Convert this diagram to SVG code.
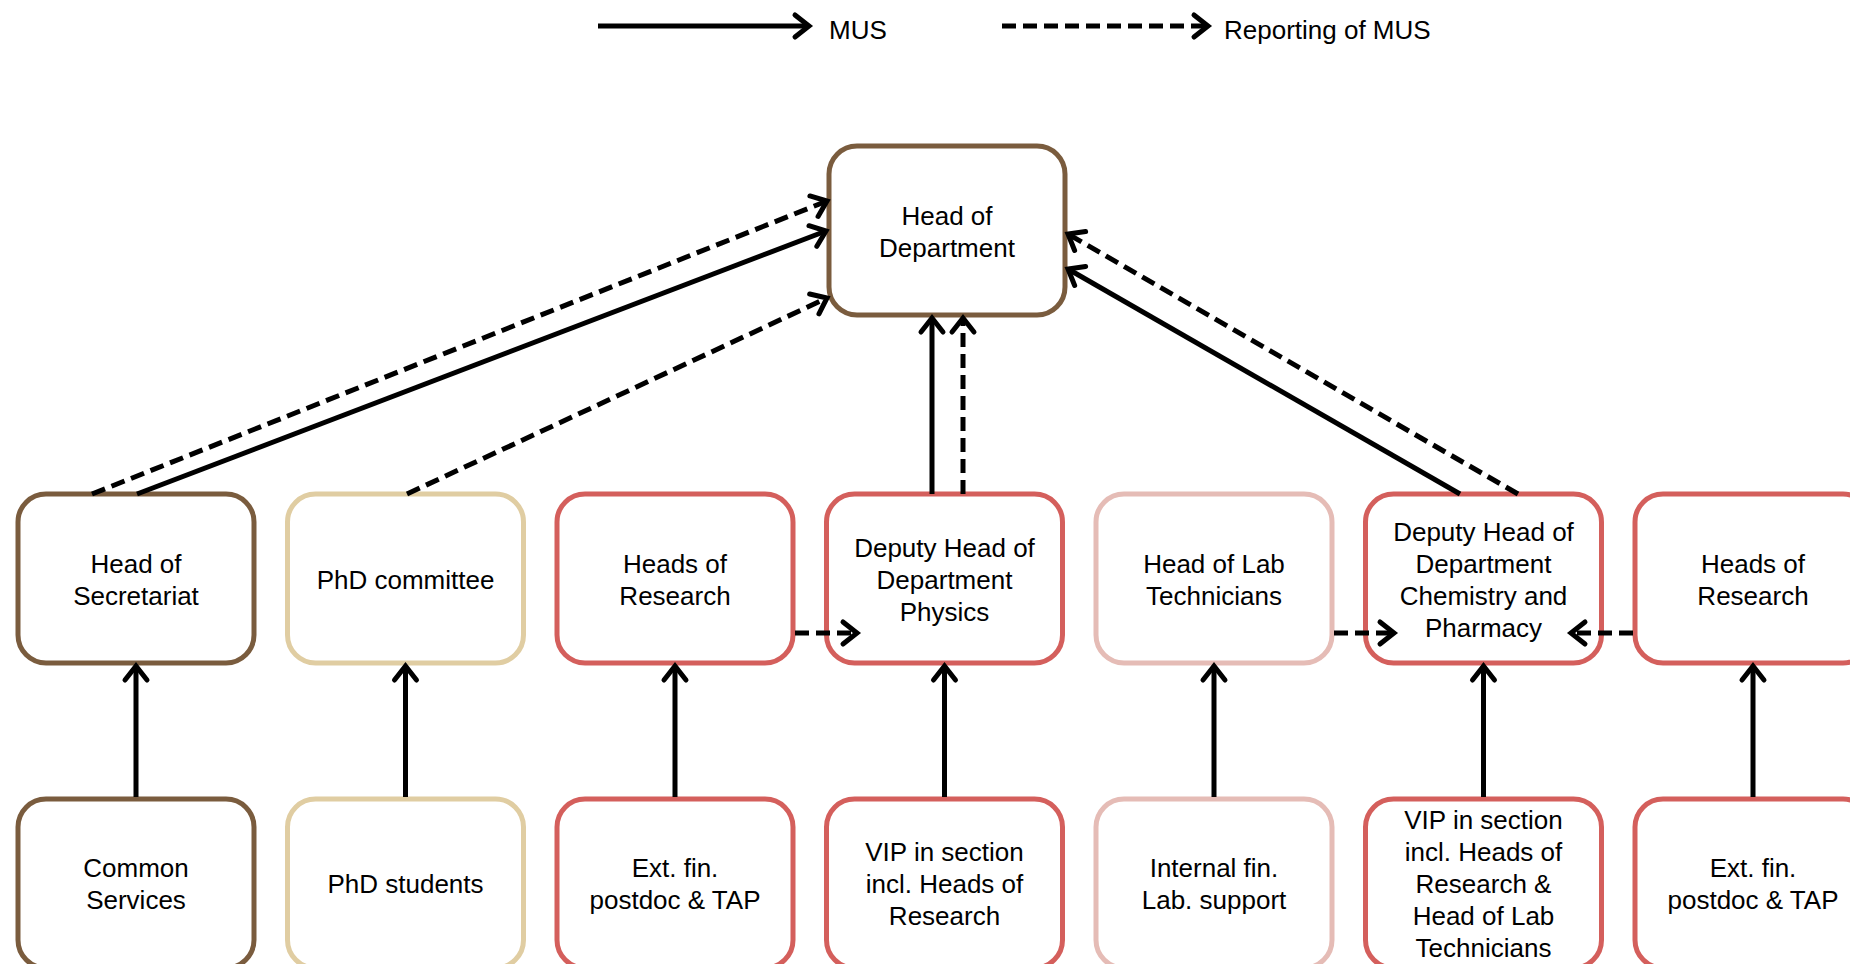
<svg xmlns="http://www.w3.org/2000/svg" width="1850" height="964" viewBox="0 0 1850 964">
<defs>
<style>
.box{fill:#fff;stroke-width:5}
.brown{stroke:#7a5c3e}
.tan{stroke:#e0cda2}
.red{stroke:#d45f5c}
.pink{stroke:#e5bcb6}
.t{font-family:"Liberation Sans",Arial,sans-serif;font-size:26px;fill:#000;text-anchor:middle;dominant-baseline:central}
.lt{font-family:"Liberation Sans",Arial,sans-serif;font-size:26px;fill:#000}
.c{fill:none;stroke:#000;stroke-width:5;marker-end:url(#ah)}
.d{stroke-dasharray:14 7}
</style>
<marker id="ah" viewBox="-16 -14 20 28" refX="0" refY="0" markerWidth="20" markerHeight="28" markerUnits="userSpaceOnUse" orient="auto" overflow="visible">
<path d="M-14,-11 L0,0 L-14,11" fill="none" stroke="#000" stroke-width="5" stroke-linecap="round" stroke-linejoin="miter"/>
</marker>
</defs>
<rect width="1850" height="964" fill="#fff"/>

<g id="legend">
<path class="c" d="M598,26 L809,26"/>
<text class="lt" x="829" y="39">MUS</text>
<path class="c d" d="M1002,26 L1208,26"/>
<text class="lt" x="1224" y="39">Reporting of MUS</text>
</g>

<g id="head-of-department">
<rect class="box brown" x="829" y="146" width="236" height="169" rx="28"/>
<text class="t" x="947" y="216">Head of</text>
<text class="t" x="947" y="248">Department</text>
</g>

<g id="head-of-secretariat">
<rect class="box brown" x="18" y="494" width="236" height="169" rx="28"/>
<text class="t" x="136" y="564">Head of</text>
<text class="t" x="136" y="596">Secretariat</text>
</g>
<g id="phd-committee">
<rect class="box tan" x="287.5" y="494" width="236" height="169" rx="28"/>
<text class="t" x="405.5" y="580">PhD committee</text>
</g>
<g id="heads-of-research-1">
<rect class="box red" x="557" y="494" width="236" height="169" rx="28"/>
<text class="t" x="675" y="564">Heads of</text>
<text class="t" x="675" y="596">Research</text>
</g>
<g id="deputy-physics">
<rect class="box red" x="826.5" y="494" width="236" height="169" rx="28"/>
<text class="t" x="944.5" y="548">Deputy Head of</text>
<text class="t" x="944.5" y="580">Department</text>
<text class="t" x="944.5" y="612">Physics</text>
</g>
<g id="head-of-lab-technicians">
<rect class="box pink" x="1096" y="494" width="236" height="169" rx="28"/>
<text class="t" x="1214" y="564">Head of Lab</text>
<text class="t" x="1214" y="596">Technicians</text>
</g>
<g id="deputy-chemistry">
<rect class="box red" x="1365.5" y="494" width="236" height="169" rx="28"/>
<text class="t" x="1483.5" y="532">Deputy Head of</text>
<text class="t" x="1483.5" y="564">Department</text>
<text class="t" x="1483.5" y="596">Chemistry and</text>
<text class="t" x="1483.5" y="628">Pharmacy</text>
</g>
<g id="heads-of-research-2">
<rect class="box red" x="1635" y="494" width="236" height="169" rx="28"/>
<text class="t" x="1753" y="564">Heads of</text>
<text class="t" x="1753" y="596">Research</text>
</g>

<g id="common-services">
<rect class="box brown" x="18" y="799" width="236" height="169" rx="28"/>
<text class="t" x="136" y="868">Common</text>
<text class="t" x="136" y="900">Services</text>
</g>
<g id="phd-students">
<rect class="box tan" x="287.5" y="799" width="236" height="169" rx="28"/>
<text class="t" x="405.5" y="884">PhD students</text>
</g>
<g id="ext-fin-1">
<rect class="box red" x="557" y="799" width="236" height="169" rx="28"/>
<text class="t" x="675" y="868">Ext. fin.</text>
<text class="t" x="675" y="900">postdoc &amp; TAP</text>
</g>
<g id="vip-physics">
<rect class="box red" x="826.5" y="799" width="236" height="169" rx="28"/>
<text class="t" x="944.5" y="852">VIP in section</text>
<text class="t" x="944.5" y="884">incl. Heads of</text>
<text class="t" x="944.5" y="916">Research</text>
</g>
<g id="internal-fin">
<rect class="box pink" x="1096" y="799" width="236" height="169" rx="28"/>
<text class="t" x="1214" y="868">Internal fin.</text>
<text class="t" x="1214" y="900">Lab. support</text>
</g>
<g id="vip-chemistry">
<rect class="box red" x="1365.5" y="799" width="236" height="169" rx="28"/>
<text class="t" x="1483.5" y="820">VIP in section</text>
<text class="t" x="1483.5" y="852">incl. Heads of</text>
<text class="t" x="1483.5" y="884">Research &amp;</text>
<text class="t" x="1483.5" y="916">Head of Lab</text>
<text class="t" x="1483.5" y="948">Technicians</text>
</g>
<g id="ext-fin-2">
<rect class="box red" x="1635" y="799" width="236" height="169" rx="28"/>
<text class="t" x="1753" y="868">Ext. fin.</text>
<text class="t" x="1753" y="900">postdoc &amp; TAP</text>
</g>

<g id="connectors">
<path class="c d" d="M92,494 L827,201"/>
<path class="c" d="M137,494 L826,231"/>
<path class="c d" d="M407,494 L827,298"/>
<path class="c" d="M932,494 L932,318"/>
<path class="c d" d="M963,494 L963,318"/>
<path class="c" d="M1460,494 L1068,269"/>
<path class="c d" d="M1518,494 L1068,234"/>
<path class="c d" d="M795,633 L857,633"/>
<path class="c d" d="M1334,633 L1394,633"/>
<path class="c d" d="M1633,633 L1571,633"/>
<path class="c" d="M136,797 L136,666"/>
<path class="c" d="M405.5,797 L405.5,666"/>
<path class="c" d="M675,797 L675,666"/>
<path class="c" d="M944.5,797 L944.5,666"/>
<path class="c" d="M1214,797 L1214,666"/>
<path class="c" d="M1483.5,797 L1483.5,666"/>
<path class="c" d="M1753,797 L1753,666"/>
</g>
</svg>
